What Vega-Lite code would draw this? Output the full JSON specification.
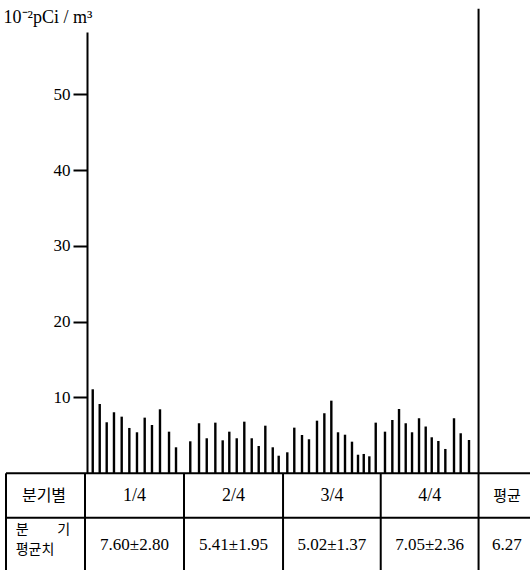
{
  "$schema": "https://vega.github.io/schema/vega-lite/v6.json",
  "autosize": {"type": "none"},
  "width": 392,
  "height": 441.3,
  "padding": {"left": 87, "top": 32, "right": 51, "bottom": 96.7},
  "background": "white",
  "config": {"view": {"stroke": null}},
  "datasets": {
    "samples": [
      {"week": 0.78, "conc": 11.08}, {"week": 1.73, "conc": 9.14}, {"week": 2.68, "conc": 6.73}, {"week": 3.67, "conc": 8.05},
      {"week": 4.72, "conc": 7.47}, {"week": 5.76, "conc": 5.98}, {"week": 6.80, "conc": 5.41}, {"week": 7.85, "conc": 7.34},
      {"week": 8.84, "conc": 6.37}, {"week": 9.93, "conc": 8.44}, {"week": 11.16, "conc": 5.49}, {"week": 12.11, "conc": 3.43},
      {"week": 14.05, "conc": 4.22}, {"week": 15.24, "conc": 6.60}, {"week": 16.29, "conc": 4.62}, {"week": 17.46, "conc": 6.68},
      {"week": 18.46, "conc": 4.35}, {"week": 19.36, "conc": 5.49}, {"week": 20.37, "conc": 4.62}, {"week": 21.40, "conc": 6.81},
      {"week": 22.41, "conc": 4.62}, {"week": 23.36, "conc": 3.60}, {"week": 24.26, "conc": 6.28}, {"week": 25.27, "conc": 3.43},
      {"week": 26.08, "conc": 2.32},
      {"week": 27.25, "conc": 2.77}, {"week": 28.20, "conc": 6.02}, {"week": 29.25, "conc": 5.05}, {"week": 30.20, "conc": 4.49},
      {"week": 31.29, "conc": 6.94}, {"week": 32.29, "conc": 7.92}, {"week": 33.24, "conc": 9.58}, {"week": 34.15, "conc": 5.41},
      {"week": 35.10, "conc": 5.09}, {"week": 36.05, "conc": 4.17}, {"week": 36.87, "conc": 2.45}, {"week": 37.65, "conc": 2.55},
      {"week": 38.41, "conc": 2.24}, {"week": 39.28, "conc": 6.68},
      {"week": 40.54, "conc": 5.49}, {"week": 41.54, "conc": 7.03}, {"week": 42.45, "conc": 8.48}, {"week": 43.36, "conc": 6.60},
      {"week": 44.22, "conc": 5.41}, {"week": 45.17, "conc": 7.26}, {"week": 46.08, "conc": 6.17}, {"week": 46.90, "conc": 4.75},
      {"week": 47.80, "conc": 4.26}, {"week": 48.75, "conc": 3.21}, {"week": 49.93, "conc": 7.26}, {"week": 50.84, "conc": 5.28},
      {"week": 51.97, "conc": 4.39}
    ],
    "quarters": [
      {"quarter": "1/4", "from": -0.27, "to": 13.2, "mean": "7.60±2.80"},
      {"quarter": "2/4", "from": 13.2, "to": 26.67, "mean": "5.41±1.95"},
      {"quarter": "3/4", "from": 26.67, "to": 39.96, "mean": "5.02±1.37"},
      {"quarter": "4/4", "from": 39.96, "to": 53.27, "mean": "7.05±2.36"},
      {"quarter": "평균", "from": 53.27, "to": 61, "mean": "6.27"}
    ],
    "one": [{}]
  },
  "layer": [
    {
      "data": {"name": "samples"},
      "mark": {"type": "rule", "color": "black", "strokeWidth": 2.4},
      "encoding": {
        "x": {"field": "week", "type": "quantitative", "scale": {"domain": [0, 53.33], "nice": false, "zero": false}, "axis": null},
        "y": {
          "field": "conc", "type": "quantitative",
          "scale": {"domain": [0, 58.2], "nice": false},
          "axis": {
            "values": [10, 20, 30, 40, 50],
            "title": "10⁻²pCi / m³",
            "titleAngle": 0, "titleAlign": "left", "titleBaseline": "middle",
            "titleX": -84, "titleY": -15,
            "titleFont": "Liberation Serif", "titleFontSize": 18, "titleFontWeight": "normal", "titleColor": "black",
            "labelFont": "Liberation Serif", "labelFontSize": 17, "labelColor": "black", "labelPadding": 3,
            "tickSize": 14, "tickWidth": 2, "tickColor": "black",
            "domainColor": "black", "domainWidth": 2, "grid": false
          }
        },
        "y2": {"datum": 0}
      }
    },
    {
      "data": {"name": "quarters"},
      "mark": {"type": "rule", "color": "black", "strokeWidth": 2},
      "encoding": {
        "x": {"field": "from", "type": "quantitative"},
        "y": {"datum": 0, "type": "quantitative"},
        "y2": {"datum": -14}
      }
    },
    {
      "data": {"name": "one"},
      "mark": {"type": "rule", "color": "black", "strokeWidth": 2},
      "encoding": {
        "x": {"datum": -11.02, "type": "quantitative"},
        "y": {"datum": 0, "type": "quantitative"},
        "y2": {"datum": -14}
      }
    },
    {
      "data": {"name": "one"},
      "mark": {"type": "rule", "color": "black", "strokeWidth": 2},
      "encoding": {
        "x": {"datum": 53.27, "type": "quantitative"},
        "y": {"datum": 61.25, "type": "quantitative"},
        "y2": {"datum": 0}
      }
    },
    {
      "data": {"name": "one"},
      "mark": {"type": "rule", "color": "black", "strokeWidth": 2},
      "encoding": {
        "x": {"datum": -11.02, "type": "quantitative"},
        "x2": {"datum": 62},
        "y": {"datum": 0, "type": "quantitative"}
      }
    },
    {
      "data": {"name": "one"},
      "mark": {"type": "rule", "color": "black", "strokeWidth": 2},
      "encoding": {
        "x": {"datum": -11.02, "type": "quantitative"},
        "x2": {"datum": 62},
        "y": {"datum": -5.86, "type": "quantitative"}
      }
    },
    {
      "data": {"name": "quarters"},
      "transform": [{"calculate": "(datum.from + datum.to) / 2", "as": "mid"}],
      "mark": {"type": "text", "font": "Liberation Serif, Noto Sans CJK KR", "fontSize": 18, "color": "black", "baseline": "middle", "align": "center"},
      "encoding": {
        "x": {"field": "mid", "type": "quantitative"},
        "y": {"datum": -2.99, "type": "quantitative"},
        "text": {"field": "quarter"},
        "size": {"condition": {"test": "datum.quarter === '평균'", "value": 15}, "value": 18}
      }
    },
    {
      "data": {"name": "quarters"},
      "transform": [{"calculate": "(datum.from + datum.to) / 2", "as": "mid"}],
      "mark": {"type": "text", "font": "Liberation Serif", "fontSize": 17, "color": "black", "baseline": "middle", "align": "center"},
      "encoding": {
        "x": {"field": "mid", "type": "quantitative"},
        "y": {"datum": -9.46, "type": "quantitative"},
        "text": {"field": "mean"}
      }
    },
    {
      "data": {"name": "one"},
      "mark": {"type": "text", "font": "Noto Sans CJK KR", "fontSize": 16, "color": "black", "baseline": "middle", "align": "center"},
      "encoding": {
        "x": {"datum": -5.85, "type": "quantitative"},
        "y": {"datum": -2.99, "type": "quantitative"},
        "text": {"value": "분기별"}
      }
    },
    {
      "data": {"name": "one"},
      "mark": {"type": "text", "font": "Noto Sans CJK KR", "fontSize": 14, "color": "black", "baseline": "middle", "align": "left"},
      "encoding": {
        "x": {"datum": -9.7, "type": "quantitative"},
        "y": {"datum": -7.5, "type": "quantitative"},
        "text": {"value": "분"}
      }
    },
    {
      "data": {"name": "one"},
      "mark": {"type": "text", "font": "Noto Sans CJK KR", "fontSize": 14, "color": "black", "baseline": "middle", "align": "right"},
      "encoding": {
        "x": {"datum": -2.3, "type": "quantitative"},
        "y": {"datum": -7.5, "type": "quantitative"},
        "text": {"value": "기"}
      }
    },
    {
      "data": {"name": "one"},
      "mark": {"type": "text", "font": "Noto Sans CJK KR", "fontSize": 14, "color": "black", "baseline": "middle", "align": "left"},
      "encoding": {
        "x": {"datum": -9.7, "type": "quantitative"},
        "y": {"datum": -10.1, "type": "quantitative"},
        "text": {"value": "평균치"}
      }
    }
  ]
}
